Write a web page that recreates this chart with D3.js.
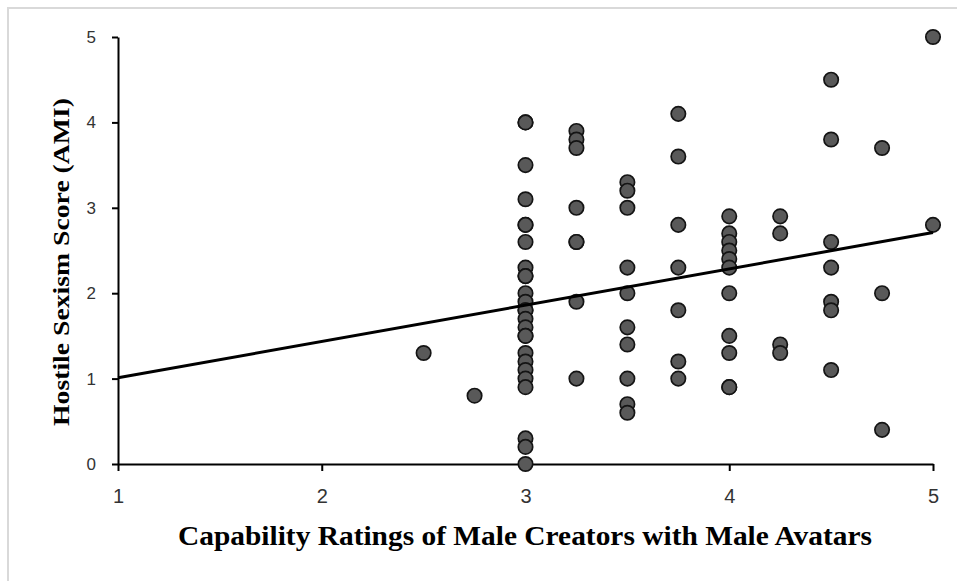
<!DOCTYPE html>
<html>
<head>
<meta charset="utf-8">
<script src="https://cdn.jsdelivr.net/npm/d3@7"></script>
<style>
  body { margin: 0; background: #fff; }
  svg { display: block; }
</style>
</head>
<body>
<script>
// capability rating (x) and hostile sexism score (y) for each respondent
const capability = [
  2.5, 2.75,
  3, 3, 3, 3, 3, 3, 3, 3, 3, 3, 3, 3, 3, 3, 3, 3, 3, 3, 3, 3, 3, 3, 3, 3, 3, 3,
  3.25, 3.25, 3.25, 3.25, 3.25, 3.25, 3.25, 3.25,
  3.5, 3.5, 3.5, 3.5, 3.5, 3.5, 3.5, 3.5, 3.5, 3.5,
  3.75, 3.75, 3.75, 3.75, 3.75, 3.75, 3.75,
  4, 4, 4, 4, 4, 4, 4, 4, 4, 4, 4,
  4.25, 4.25, 4.25, 4.25,
  4.5, 4.5, 4.5, 4.5, 4.5, 4.5, 4.5,
  4.75, 4.75, 4.75,
  5, 5
];
const hostile = [
  1.3, 0.8,
  4.0, 4.0, 3.5, 3.1, 2.8, 2.8, 2.6, 2.3, 2.2, 2.2, 2.0, 1.9, 1.8, 1.8, 1.7, 1.6, 1.5, 1.5, 1.3, 1.2, 1.1, 1.0, 0.9, 0.3, 0.2, 0.0,
  3.9, 3.8, 3.7, 3.0, 2.6, 2.6, 1.9, 1.0,
  3.3, 3.2, 3.0, 2.3, 2.0, 1.6, 1.4, 1.0, 0.7, 0.6,
  4.1, 3.6, 2.8, 2.3, 1.8, 1.2, 1.0,
  2.9, 2.7, 2.6, 2.5, 2.4, 2.3, 2.0, 1.5, 1.3, 0.9, 0.9,
  2.9, 2.7, 1.4, 1.3,
  4.5, 3.8, 2.6, 2.3, 1.9, 1.8, 1.1,
  3.7, 2.0, 0.4,
  5.0, 2.8
];
// linear trend line end points
const trendX = [1, 5];
const trendY = [1.01, 2.71];

const xTicks = [1, 2, 3, 4, 5];
const yTicks = [0, 1, 2, 3, 4, 5];

const width = 957,
    height = 581;

const svg = d3.select("body").append("svg")
    .attr("width", width)
    .attr("height", height);

// light frame
svg.append("rect")
    .attr("x", 8)
    .attr("y", 8)
    .attr("width", 960)
    .attr("height", 590)
    .attr("fill", "none")
    .attr("stroke", "#d9d9d9")
    .attr("stroke-width", 2);

const x = d3.scaleLinear().domain([1, 5]).range([118, 933]);
const y = d3.scaleLinear().domain([0, 5]).range([464, 37]);

const xAxis = svg.append("g")
    .attr("transform", `translate(0, ${y(0)})`)
    .call(d3.axisBottom(x).tickValues(xTicks).tickFormat(d3.format("d"))
        .tickSize(7).tickSizeOuter(0).tickPadding(18));

const yAxis = svg.append("g")
    .attr("transform", `translate(${x(1)}, 0)`)
    .call(d3.axisLeft(y).tickValues(yTicks).tickFormat(d3.format("d"))
        .tickSize(6).tickSizeOuter(0).tickPadding(16));

[xAxis, yAxis].forEach(function (a) {
    a.select(".domain").attr("stroke", "#000").attr("stroke-width", 2);
    a.selectAll(".tick line").attr("stroke", "#000").attr("stroke-width", 2);
});

xAxis.selectAll(".tick text")
    .attr("font-family", "'Liberation Sans', Arial, sans-serif")
    .attr("font-size", 20)
    .attr("fill", "#333");

yAxis.selectAll(".tick text")
    .attr("font-family", "'Liberation Sans', Arial, sans-serif")
    .attr("font-size", 17)
    .attr("fill", "#333");

// points
const points = d3.zip(capability, hostile);
svg.append("g")
    .selectAll("circle")
    .data(points)
    .enter().append("circle")
    .attr("cx", function (d) { return x(d[0]); })
    .attr("cy", function (d) { return y(d[1]); })
    .attr("r", 7.2)
    .attr("fill", "#595959")
    .attr("stroke", "#141414")
    .attr("stroke-width", 1.7);

// trend line
svg.append("path")
    .datum(d3.zip(trendX, trendY))
    .attr("fill", "none")
    .attr("stroke", "#000")
    .attr("stroke-width", 3)
    .attr("d", d3.line()
        .x(function (d) { return x(d[0]); })
        .y(function (d) { return y(d[1]); }));

// axis titles
svg.append("text")
    .attr("x", 525)
    .attr("y", 545)
    .attr("text-anchor", "middle")
    .attr("textLength", 694)
    .attr("lengthAdjust", "spacingAndGlyphs")
    .style("font-family", "'Liberation Serif', 'Times New Roman', serif")
    .style("font-weight", "bold")
    .style("font-size", "28px")
    .attr("fill", "#000")
    .text("Capability Ratings of Male Creators with Male Avatars");

svg.append("text")
    .attr("transform", "translate(69, 262) rotate(-90)")
    .attr("text-anchor", "middle")
    .attr("textLength", 328)
    .attr("lengthAdjust", "spacingAndGlyphs")
    .style("font-family", "'Liberation Serif', 'Times New Roman', serif")
    .style("font-weight", "bold")
    .style("font-size", "23px")
    .attr("fill", "#000")
    .text("Hostile Sexism Score (AMI)");
</script>
</body>
</html>
